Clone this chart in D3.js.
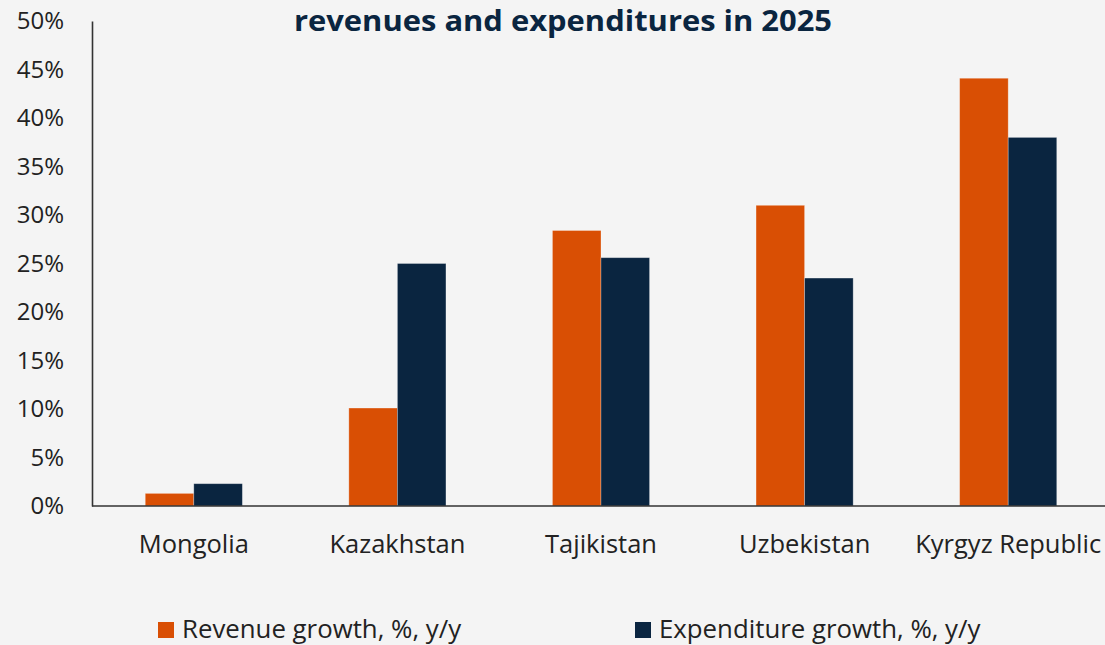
<!DOCTYPE html>
<html>
<head>
<meta charset="utf-8">
<script src="https://cdn.jsdelivr.net/npm/d3@7"></script>
<style>
  html, body { margin: 0; padding: 0; background: #f4f4f4; }
  svg { display: block; }
</style>
</head>
<body>
<div id="chart"></div>
<script>
const countries = ['Mongolia', 'Kazakhstan', 'Tajikistan', 'Uzbekistan', 'Kyrgyz Republic'];
const revenueGrowth = [1.3, 10.1, 28.4, 31.0, 44.1];
const expenditureGrowth = [2.3, 25.0, 25.6, 23.5, 38.0];
const seriesNames = ['Revenue growth, %, y/y', 'Expenditure growth, %, y/y'];
const yTicks = [0, 5, 10, 15, 20, 25, 30, 35, 40, 45, 50];

const width = 1105, height = 645;
const colors = ['#d94f04', '#0a2540'];

const svg = d3.select('#chart').append('svg')
    .attr('width', width)
    .attr('height', height);

svg.append('rect').attr('width', width).attr('height', height).attr('fill', '#f4f4f4');

const x0 = d3.scaleBand()
    .domain(countries)
    .range([92, 1110])
    .paddingInner(0.523)
    .paddingOuter(0.2615);

const x1 = d3.scaleBand()
    .domain([0, 1])
    .range([0, x0.bandwidth()]);

const y = d3.scaleLinear()
    .domain([0, 50])
    .range([506, 21]);

// bars
const rows = countries.map((c, i) => ({ country: c, values: [revenueGrowth[i], expenditureGrowth[i]] }));
const groups = svg.append('g').selectAll('g')
    .data(rows)
    .join('g')
    .attr('transform', d => `translate(${x0(d.country)},0)`);

groups.selectAll('rect')
    .data(d => d.values.map((v, k) => ({ v, k })))
    .join('rect')
    .attr('x', d => x1(d.k))
    .attr('width', x1.bandwidth())
    .attr('y', d => y(d.v))
    .attr('height', d => y(0) - y(d.v))
    .attr('fill', d => colors[d.k])
    .attr('stroke', 'rgba(255,255,255,0.35)')
    .attr('stroke-width', 0.8);

// y axis
const yAxis = d3.axisLeft(y)
    .tickValues(yTicks)
    .tickSize(0)
    .tickPadding(28)
    .tickFormat(d => d + '%');

const gy = svg.append('g')
    .attr('transform', 'translate(92,0)')
    .call(yAxis);
gy.select('.domain').attr('stroke', '#333').attr('stroke-width', 1.6);
gy.selectAll('text')
    .attr('font-family', 'Open Sans')
    .attr('font-size', 24)
    .attr('fill', '#222');

// x axis
const xAxis = d3.axisBottom(x0).tickSize(0);
const gx = svg.append('g')
    .attr('transform', 'translate(0,506)')
    .call(xAxis);
gx.select('.domain').attr('d', 'M92,0H1110').attr('stroke', '#333').attr('stroke-width', 1.6);
gx.selectAll('text')
    .attr('y', 47)
    .attr('dy', 0)
    .attr('font-family', 'Open Sans')
    .attr('font-size', 25.5)
    .attr('fill', '#222');

// title (upper line falls outside the picture in the source)
svg.append('text')
    .attr('x', 563)
    .attr('y', 31)
    .attr('text-anchor', 'middle')
    .attr('font-family', 'Open Sans')
    .attr('font-weight', 'bold')
    .attr('font-size', 29)
    .attr('textLength', 538)
    .attr('lengthAdjust', 'spacingAndGlyphs')
    .attr('fill', '#0a2540')
    .text('revenues and expenditures in 2025');

// legend
const legendX = [158, 635];
const legend = svg.append('g').selectAll('g')
    .data(seriesNames)
    .join('g')
    .attr('transform', (d, i) => `translate(${legendX[i]},622)`);
legend.append('rect')
    .attr('width', 16)
    .attr('height', 16)
    .attr('fill', (d, i) => colors[i]);
legend.append('text')
    .attr('x', 24)
    .attr('y', 16)
    .attr('font-family', 'Open Sans')
    .attr('font-size', 25.8)
    .attr('fill', '#222')
    .text(d => d);
</script>
</body>
</html>
